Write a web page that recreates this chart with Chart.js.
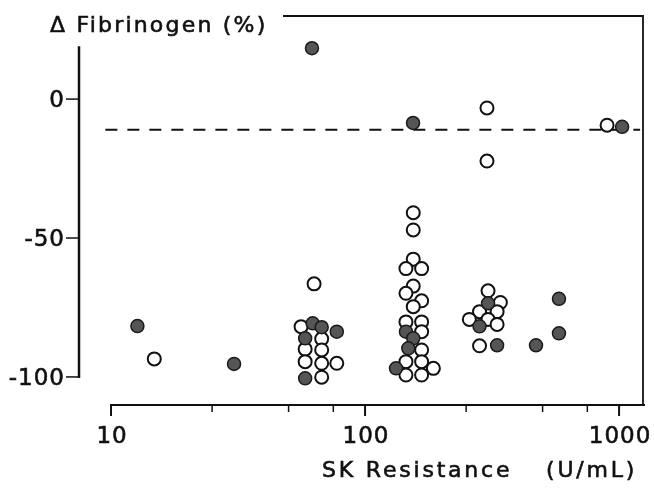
<!DOCTYPE html>
<html>
<head>
<meta charset="utf-8">
<script src="https://cdn.jsdelivr.net/npm/chart.js@4"></script>
<style>
    html, body { margin: 0; padding: 0; background: #fff; }
    canvas { display: block; }
</style>
</head>
<body>
<canvas id="chart" width="654" height="488"></canvas>
<script>
// Filled circles
const filledX = [12.7, 30.5, 61.8, 154.5, 1028, 62.2, 67.5, 77.4, 58.1, 58.1, 144.9, 154.8, 148, 132.4, 304.9, 282.3, 331, 471, 580, 580];
const filledY = [-81.7, -95.3, 18.3, -8.6, -10, -80.7, -82.1, -83.7, -86.1, -100.5, -83.7, -86.1, -89.7, -96.9, -73.5, -81.8, -88.6, -88.6, -71.9, -84.3];

// Open circles
const hollowX = [14.8, 63, 302, 302, 897, 56, 67.5, 58.1, 67.5, 58.1, 67.5, 77.4, 67.5,
    154.8, 154.8, 154.8, 144.9, 167, 154.8, 144.9, 167, 154.8, 144.9, 167, 167, 167, 144.9, 167, 144.9, 167, 185.8,
    304.9, 341, 282.3, 331, 257.4, 304.9, 331, 282.3];
const hollowY = [-93.5, -66.5, -3.2, -22.3, -9.4, -81.9, -86.3, -90.0, -90.3, -94.5, -95.1, -95.1, -100.1,
    -40.9, -47.1, -57.6, -61.0, -61.0, -67.3, -69.9, -72.6, -74.7, -80.2, -80.2, -83.7, -90.3, -94.5, -94.5, -99.3, -99.3, -96.9,
    -69.0, -73.2, -76.5, -76.5, -79.3, -79.3, -81.1, -88.8];

// Dashed reference line
const refLineX = [9.5, 1210];
const refLineY = -11;

// Axis ticks
const yTicks = [0, -50, -100];
const xTicks = [10, 100, 1000];
const xMinorTicks = [25, 50, 75, 250, 500, 750];
const yAxisTop = 19;

const toPoints = (xs, ys) => xs.map((x, i) => ({ x: x, y: ys[i] }));

const FONT = '"DejaVu Sans", sans-serif';

// text with a thin outline so it reads a bit heavier than regular
function drawText(ctx, txt, x, y) {
    ctx.fillText(txt, x, y);
    ctx.lineWidth = 0.6;
    ctx.strokeText(txt, x, y);
}

// Axes drawn by hand (offset spines like the original figure)
const axesPlugin = {
    id: 'axes',
    afterDraw(chart) {
        const ctx = chart.ctx;
        const xs = chart.scales.x;
        const ys = chart.scales.y;
        const area = chart.chartArea;
        ctx.save();
        ctx.strokeStyle = '#111';
        ctx.fillStyle = '#111';
        ctx.lineCap = 'butt';

        // left spine
        ctx.lineWidth = 2.5;
        ctx.beginPath();
        ctx.moveTo(area.left, ys.getPixelForValue(yAxisTop));
        ctx.lineTo(area.left, ys.getPixelForValue(-100) + 1);
        ctx.stroke();

        // bottom spine
        ctx.lineWidth = 2;
        ctx.beginPath();
        ctx.moveTo(xs.getPixelForValue(10) - 1, area.bottom);
        ctx.lineTo(area.right, area.bottom);
        ctx.stroke();

        // right and top frame
        ctx.lineWidth = 1.8;
        ctx.beginPath();
        ctx.moveTo(283, area.top);
        ctx.lineTo(area.right - 2, area.top);
        ctx.lineTo(area.right - 2, area.bottom);
        ctx.stroke();

        // y ticks + labels
        ctx.font = '23px ' + FONT;
        ctx.letterSpacing = '1px';
        ctx.textAlign = 'right';
        ctx.textBaseline = 'middle';
        yTicks.forEach(v => {
            const py = ys.getPixelForValue(v);
            ctx.lineWidth = 1.5;
            ctx.beginPath();
            ctx.moveTo(area.left - 13, py);
            ctx.lineTo(area.left, py);
            ctx.stroke();
            drawText(ctx, String(v), area.left - 14, py + 2);
        });

        // x ticks + labels
        ctx.textAlign = 'center';
        ctx.textBaseline = 'top';
        xTicks.forEach(v => {
            const px = xs.getPixelForValue(v);
            ctx.lineWidth = 2;
            ctx.beginPath();
            ctx.moveTo(px, area.bottom);
            ctx.lineTo(px, area.bottom + 11);
            ctx.stroke();
            drawText(ctx, String(v), px + 1, area.bottom + 21);
        });
        xMinorTicks.forEach(v => {
            const px = xs.getPixelForValue(v);
            ctx.lineWidth = 1.5;
            ctx.beginPath();
            ctx.moveTo(px, area.bottom);
            ctx.lineTo(px, area.bottom + 7);
            ctx.stroke();
        });

        // titles
        ctx.font = '22px ' + FONT;
        ctx.letterSpacing = '2.2px';
        ctx.textAlign = 'left';
        ctx.textBaseline = 'middle';
        drawText(ctx, '\u0394 Fibrinogen (%)', 50, 26);
        ctx.letterSpacing = '2.8px';
        drawText(ctx, 'SK Resistance', 322, 471);
        drawText(ctx, '(U/mL)', 546, 471);
        ctx.restore();
    }
};

const chartEl = document.getElementById('chart');
new Chart(chartEl, {
    type: 'scatter',
    data: {
        datasets: [
            {
                label: 'filled',
                data: toPoints(filledX, filledY),
                pointRadius: 6.5,
                pointBackgroundColor: '#555',
                pointBorderColor: '#1a1a1a',
                pointBorderWidth: 1.5,
                order: 0
            },
            {
                label: 'open',
                data: toPoints(hollowX, hollowY),
                pointRadius: 6.5,
                pointBackgroundColor: '#fff',
                pointBorderColor: '#111',
                pointBorderWidth: 2,
                order: 1
            },
            {
                type: 'line',
                label: 'ref',
                data: refLineX.map(x => ({ x: x, y: refLineY })),
                borderColor: '#111',
                borderWidth: 2,
                borderDash: [12, 10],
                pointRadius: 0,
                fill: false,
                order: 2
            }
        ]
    },
    options: {
        responsive: false,
        animation: false,
        devicePixelRatio: 1,
        layout: { padding: { left: 79, right: 9, top: 16, bottom: 83 } },
        plugins: {
            legend: { display: false },
            tooltip: { enabled: false }
        },
        scales: {
            x: { type: 'logarithmic', min: 7.48, max: 1265, display: false },
            y: { type: 'linear', min: -110.1, max: 29.9, display: false }
        }
    },
    plugins: [axesPlugin]
});
</script>
</body>
</html>
